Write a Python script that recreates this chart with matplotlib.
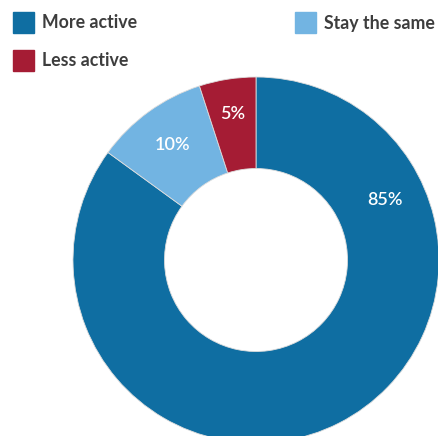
import matplotlib
matplotlib.use("Agg")
import matplotlib.pyplot as plt
from matplotlib.patches import Rectangle
import numpy as np

categories = ["More active", "Stay the same", "Less active"]
values = [85, 10, 5]
labels = ["85%", "10%", "5%"]
colors = ["#0F6EA2", "#72B4E2", "#A51C34"]

W, H = 439, 436
fig = plt.figure(figsize=(W / 100, H / 100), dpi=100)
ax = fig.add_axes([0, 0, 1, 1])

cx, cy, R = 0, 0, 183
wedges, _ = ax.pie(values, colors=colors, startangle=90, counterclock=False,
                   radius=R, center=(cx, cy),
                   wedgeprops=dict(width=R * 0.5, edgecolor="#dddddd", linewidth=0.6))

# label positions (angle degrees, radius fraction)
label_pos = [(25, 0.78), (126, 0.78), (99, 0.81)]
for lab, (ang, rf) in zip(labels, label_pos):
    a = np.deg2rad(ang)
    ax.text(cx + R * rf * np.cos(a), cy + R * rf * np.sin(a), lab,
            ha="center", va="center", color="white", fontsize=13,
            family="Lato", fontweight="semibold")

ax.set_xlim(-256, W - 256)
ax.set_ylim(-(H - 260), 260)
ax.set_aspect("equal", adjustable="box")
ax.axis("off")

# legend, in pixel layout (x of square left, y of square top)
legend_slots = [(13, 12), (295, 12), (13, 50)]
sq = 21
for i, (lx, ly) in enumerate(legend_slots):
    fig.patches.append(Rectangle((lx / W, 1 - (ly + sq) / H), sq / W, sq / H,
                                 transform=fig.transFigure, color=colors[i]))
    fig.text((lx + sq + 8) / W, 1 - (ly + sq / 2 + 0.5) / H, categories[i],
             ha="left", va="center", color="#3d3d3d",
             family="Lato", fontweight="bold", fontsize=12.8)

fig.savefig("out.png", dpi=100)
